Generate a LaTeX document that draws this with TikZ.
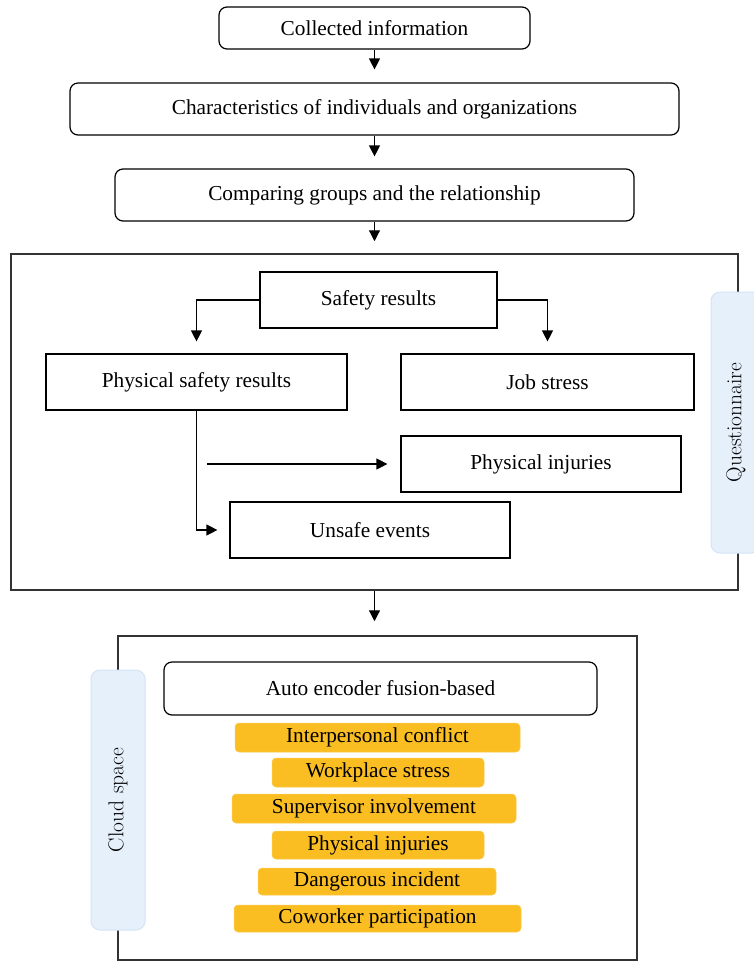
\documentclass[tikz,border=0pt]{standalone}
\usepackage{fontspec}
\setmainfont{Liberation Serif}
\newfontfamily\sidefont{Latin Modern Roman}
\usetikzlibrary{arrows.meta}
\definecolor{tabfill}{HTML}{E6F0FB}
\definecolor{tabline}{HTML}{D3E4F6}
\definecolor{orangebox}{HTML}{FBBE22}
\definecolor{frameline}{HTML}{333333}
\begin{document}
\begin{tikzpicture}[x=1pt,y=-1pt,
  every node/.style={font=\fontsize{21.3}{24}\selectfont, inner sep=0pt, align=center},
  rbox/.style={draw=black, line width=1.2pt, rounded corners=8pt, fill=white},
  sbox/.style={draw=black, line width=1.2pt, fill=white},
  frame/.style={draw=frameline, line width=1.5pt},
  sidetab/.style={draw=tabline, line width=1pt, fill=tabfill, rounded corners=9pt, font=\sidefont\fontsize{21.5}{24}\selectfont},
  obox/.style={fill=orangebox, draw=orangebox!80!white, line width=0.5pt, rounded corners=4pt},
  arr/.style={line width=1.2pt, -{Triangle[width=11pt,length=11pt]}}
]
\clip (0,0) rectangle (754,962);
\fill[white] (0,0) rectangle (754,962);

% top chain
\node[rbox, minimum width=311pt, minimum height=42pt] (ci) at (374.5,28) {Collected information};
\node[rbox, minimum width=609pt, minimum height=52pt] (ch) at (374.5,109) {Characteristics of individuals and organizations};
\node[rbox, minimum width=519pt, minimum height=52pt] (cg) at (374.5,195) {Comparing groups and the relationship};

% big frame
\node[frame, minimum width=727pt, minimum height=336pt] (big) at (374.5,422) {};
\node[sbox, minimum width=237pt, minimum height=56pt] (sr) at (378.5,300) {Safety results};
\node[sbox, minimum width=301pt, minimum height=56pt] (psr) at (196.5,382) {Physical safety results};
\node[sbox, minimum width=293pt, minimum height=56pt] (js) at (547.5,382) {Job stress};
\node[sbox, minimum width=280pt, minimum height=56pt] (pi) at (541,464) {Physical injuries};
\node[sbox, minimum width=280pt, minimum height=56pt] (ue) at (370,530) {Unsafe events};
\coordinate (hs) at (207,464);

\node[sidetab, minimum width=50pt, minimum height=261pt] (qt) at (736,422.5) {\rotatebox{90}{Questionnaire}};

% bottom frame
\node[frame, minimum width=519pt, minimum height=324pt] (bot) at (377.5,798) {};
\node[sidetab, minimum width=54pt, minimum height=260pt] (cs) at (118,800) {\rotatebox{90}{Cloud space}};
\node[rbox, minimum width=433pt, minimum height=53pt] (ae) at (380.5,688.5) {Auto encoder fusion-based};
\node[obox, minimum width=285pt, minimum height=29pt] (o1) at (377.5,737.5) {Interpersonal conflict};
\node[obox, minimum width=212pt, minimum height=29pt] (o2) at (378,772.5) {Workplace stress};
\node[obox, minimum width=284pt, minimum height=29pt] (o3) at (374,808.5) {Supervisor involvement};
\node[obox, minimum width=212pt, minimum height=28pt] (o4) at (378,845) {Physical injuries};
\node[obox, minimum width=238pt, minimum height=27pt] (o5) at (377,881.5) {Dangerous incident};
\node[obox, minimum width=287pt, minimum height=27pt] (o6) at (377.5,918.5) {Coworker participation};

% connectors
\draw[arr, shorten >=13pt] (ci.south) -- (ch.north);
\draw[arr, shorten >=12pt] (ch.south) -- (cg.north);
\draw[arr, shorten >=12pt] (cg.south) -- (cg.south |- big.north);
\draw[arr, shorten >=14pt] (big.south) -- (big.south |- bot.north);
\draw[arr, shorten >=12pt] (sr.west) -| (psr.north);
\draw[arr, shorten >=12pt] (sr.east) -| (js.north);
\draw[arr, shorten >=12pt] (psr.south) |- (ue.west);
\draw[arr, shorten >=13pt] (hs) -- (pi.west);
\end{tikzpicture}
\end{document}
